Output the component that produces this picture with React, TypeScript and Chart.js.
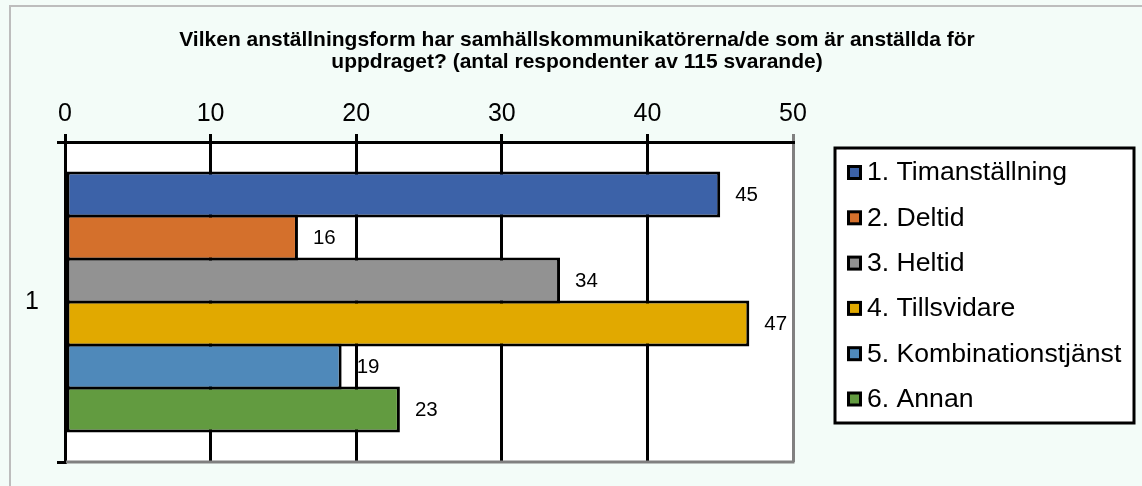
import React, { useEffect, useRef } from "react";
import { Chart, registerables } from "chart.js";

Chart.register(...registerables);

const categories = ["1"];
const seriesLabels = [
  "1. Timanställning",
  "2. Deltid",
  "3. Heltid",
  "4. Tillsvidare",
  "5. Kombinationstjänst",
  "6. Annan",
];
const seriesValues = [45, 16, 34, 47, 19, 23];
const seriesColors = ["#3C62A8", "#D4702C", "#929292", "#E1A900", "#4F89BA", "#629B40"];
const xMin = 0;
const xMax = 50;
const xStep = 10;
const titleLines = [
  "Vilken anställningsform har samhällskommunikatörerna/de som är anställda för",
  "uppdraget? (antal respondenter av 115 svarande)",
];

const FONT = '"Liberation Sans", Arial, sans-serif';

const decorPlugin = {
  id: "decor",
  beforeDraw(chart: any) {
    const { ctx, chartArea, width, height } = chart;
    ctx.save();
    ctx.fillStyle = "#F3FCF8";
    ctx.fillRect(0, 0, width, height);
    ctx.strokeStyle = "#BDBDBD";
    ctx.lineWidth = 2;
    ctx.beginPath();
    ctx.moveTo(10, height + 10);
    ctx.lineTo(10, 6);
    ctx.lineTo(width + 10, 6);
    ctx.stroke();
    ctx.fillStyle = "#FFFFFF";
    ctx.fillRect(chartArea.left, chartArea.top, chartArea.right - chartArea.left, chartArea.bottom - chartArea.top);
    ctx.restore();
  },
  afterDatasetsDraw(chart: any) {
    const { ctx, chartArea } = chart;
    ctx.save();
    // bottom border of plot area
    ctx.strokeStyle = "#808080";
    ctx.lineWidth = 3;
    ctx.beginPath();
    ctx.moveTo(chartArea.left + 1, chartArea.bottom);
    ctx.lineTo(chartArea.right + 1.5, chartArea.bottom);
    ctx.stroke();
    // data labels
    ctx.fillStyle = "#000";
    ctx.font = `20.5px ${FONT}`;
    ctx.textAlign = "left";
    ctx.textBaseline = "middle";
    chart.data.datasets.forEach((ds: any, i: number) => {
      const meta = chart.getDatasetMeta(i);
      meta.data.forEach((el: any, j: number) => {
        ctx.fillText(String(ds.data[j]), el.x + 15, el.y + 1);
      });
    });
    ctx.restore();
  },
  afterDraw(chart: any) {
    const { ctx } = chart;
    ctx.save();
    // title
    ctx.fillStyle = "#000";
    ctx.font = `bold 21px ${FONT}`;
    ctx.textAlign = "center";
    ctx.textBaseline = "middle";
    titleLines.forEach((line, i) => {
      ctx.fillText(line, 577, 40 + i * 22);
    });
    // legend
    const bx = 835, by = 148, bw = 299, bh = 275;
    ctx.fillStyle = "#FFFFFF";
    ctx.fillRect(bx, by, bw, bh);
    ctx.strokeStyle = "#000";
    ctx.lineWidth = 3;
    ctx.strokeRect(bx, by, bw, bh);
    ctx.font = `26.6px ${FONT}`;
    ctx.textAlign = "left";
    ctx.textBaseline = "middle";
    chart.data.datasets.forEach((ds: any, i: number) => {
      const cy = 172 + i * 45.3;
      ctx.fillStyle = "#000";
      ctx.fillRect(847, cy - 7, 15, 15);
      ctx.fillStyle = ds.backgroundColor;
      ctx.fillRect(850, cy - 4, 9, 9);
      ctx.fillStyle = "#000";
      ctx.fillText(ds.label, 867, cy + 1);
    });
    ctx.restore();
  },
};

export default function App() {
  const ref = useRef<HTMLCanvasElement>(null);
  useEffect(() => {
    document.body.style.margin = "0";
    const canvas = ref.current!;
    const chart = new Chart(canvas, {
      type: "bar",
      data: {
        labels: categories,
        datasets: seriesLabels.map((label, i) => ({
          label,
          data: [seriesValues[i]],
          backgroundColor: seriesColors[i],
          borderColor: "#000",
          borderWidth: 3,
          borderSkipped: false,
          barPercentage: 1.07,
          categoryPercentage: 0.806,
        })),
      },
      options: {
        indexAxis: "y",
        animation: false,
        responsive: false,
        devicePixelRatio: 1,
        layout: { padding: { top: 92, left: 10, right: 349, bottom: 24 } },
        plugins: {
          legend: { display: false },
          title: { display: false },
          tooltip: { enabled: false },
        },
        scales: {
          x: {
            position: "top",
            min: xMin,
            max: xMax,
            afterFit: (s: any) => {
              s.height = 50;
              s.paddingLeft = 0;
              s.paddingRight = 0;
            },
            ticks: {
              stepSize: xStep,
              color: "#000",
              font: { size: 25, family: FONT },
              padding: 5,
            },
            grid: {
              color: (c: any) => (c.tick && c.tick.value === xMax ? "#808080" : "#000"),
              lineWidth: 3,
              tickLength: 8,
              drawTicks: true,
            },
            border: { display: true, color: "#000", width: 3 },
          },
          y: {
            afterFit: (s: any) => {
              s.width = 55;
              s.paddingTop = 0;
              s.paddingBottom = 0;
            },
            ticks: {
              color: "#000",
              font: { size: 25, family: FONT },
              padding: 18,
            },
            grid: {
              drawOnChartArea: false,
              drawTicks: true,
              tickLength: 8,
              color: "#000",
              lineWidth: 3,
              offset: true,
            },
            border: { display: true, color: "#000", width: 3 },
          },
        },
      } as any,
      plugins: [decorPlugin],
    });
    return () => chart.destroy();
  }, []);
  return (
    <div style={{ width: 1142, height: 486 }}>
      <canvas ref={ref} width={1142} height={486} style={{ display: "block" }} />
    </div>
  );
}
